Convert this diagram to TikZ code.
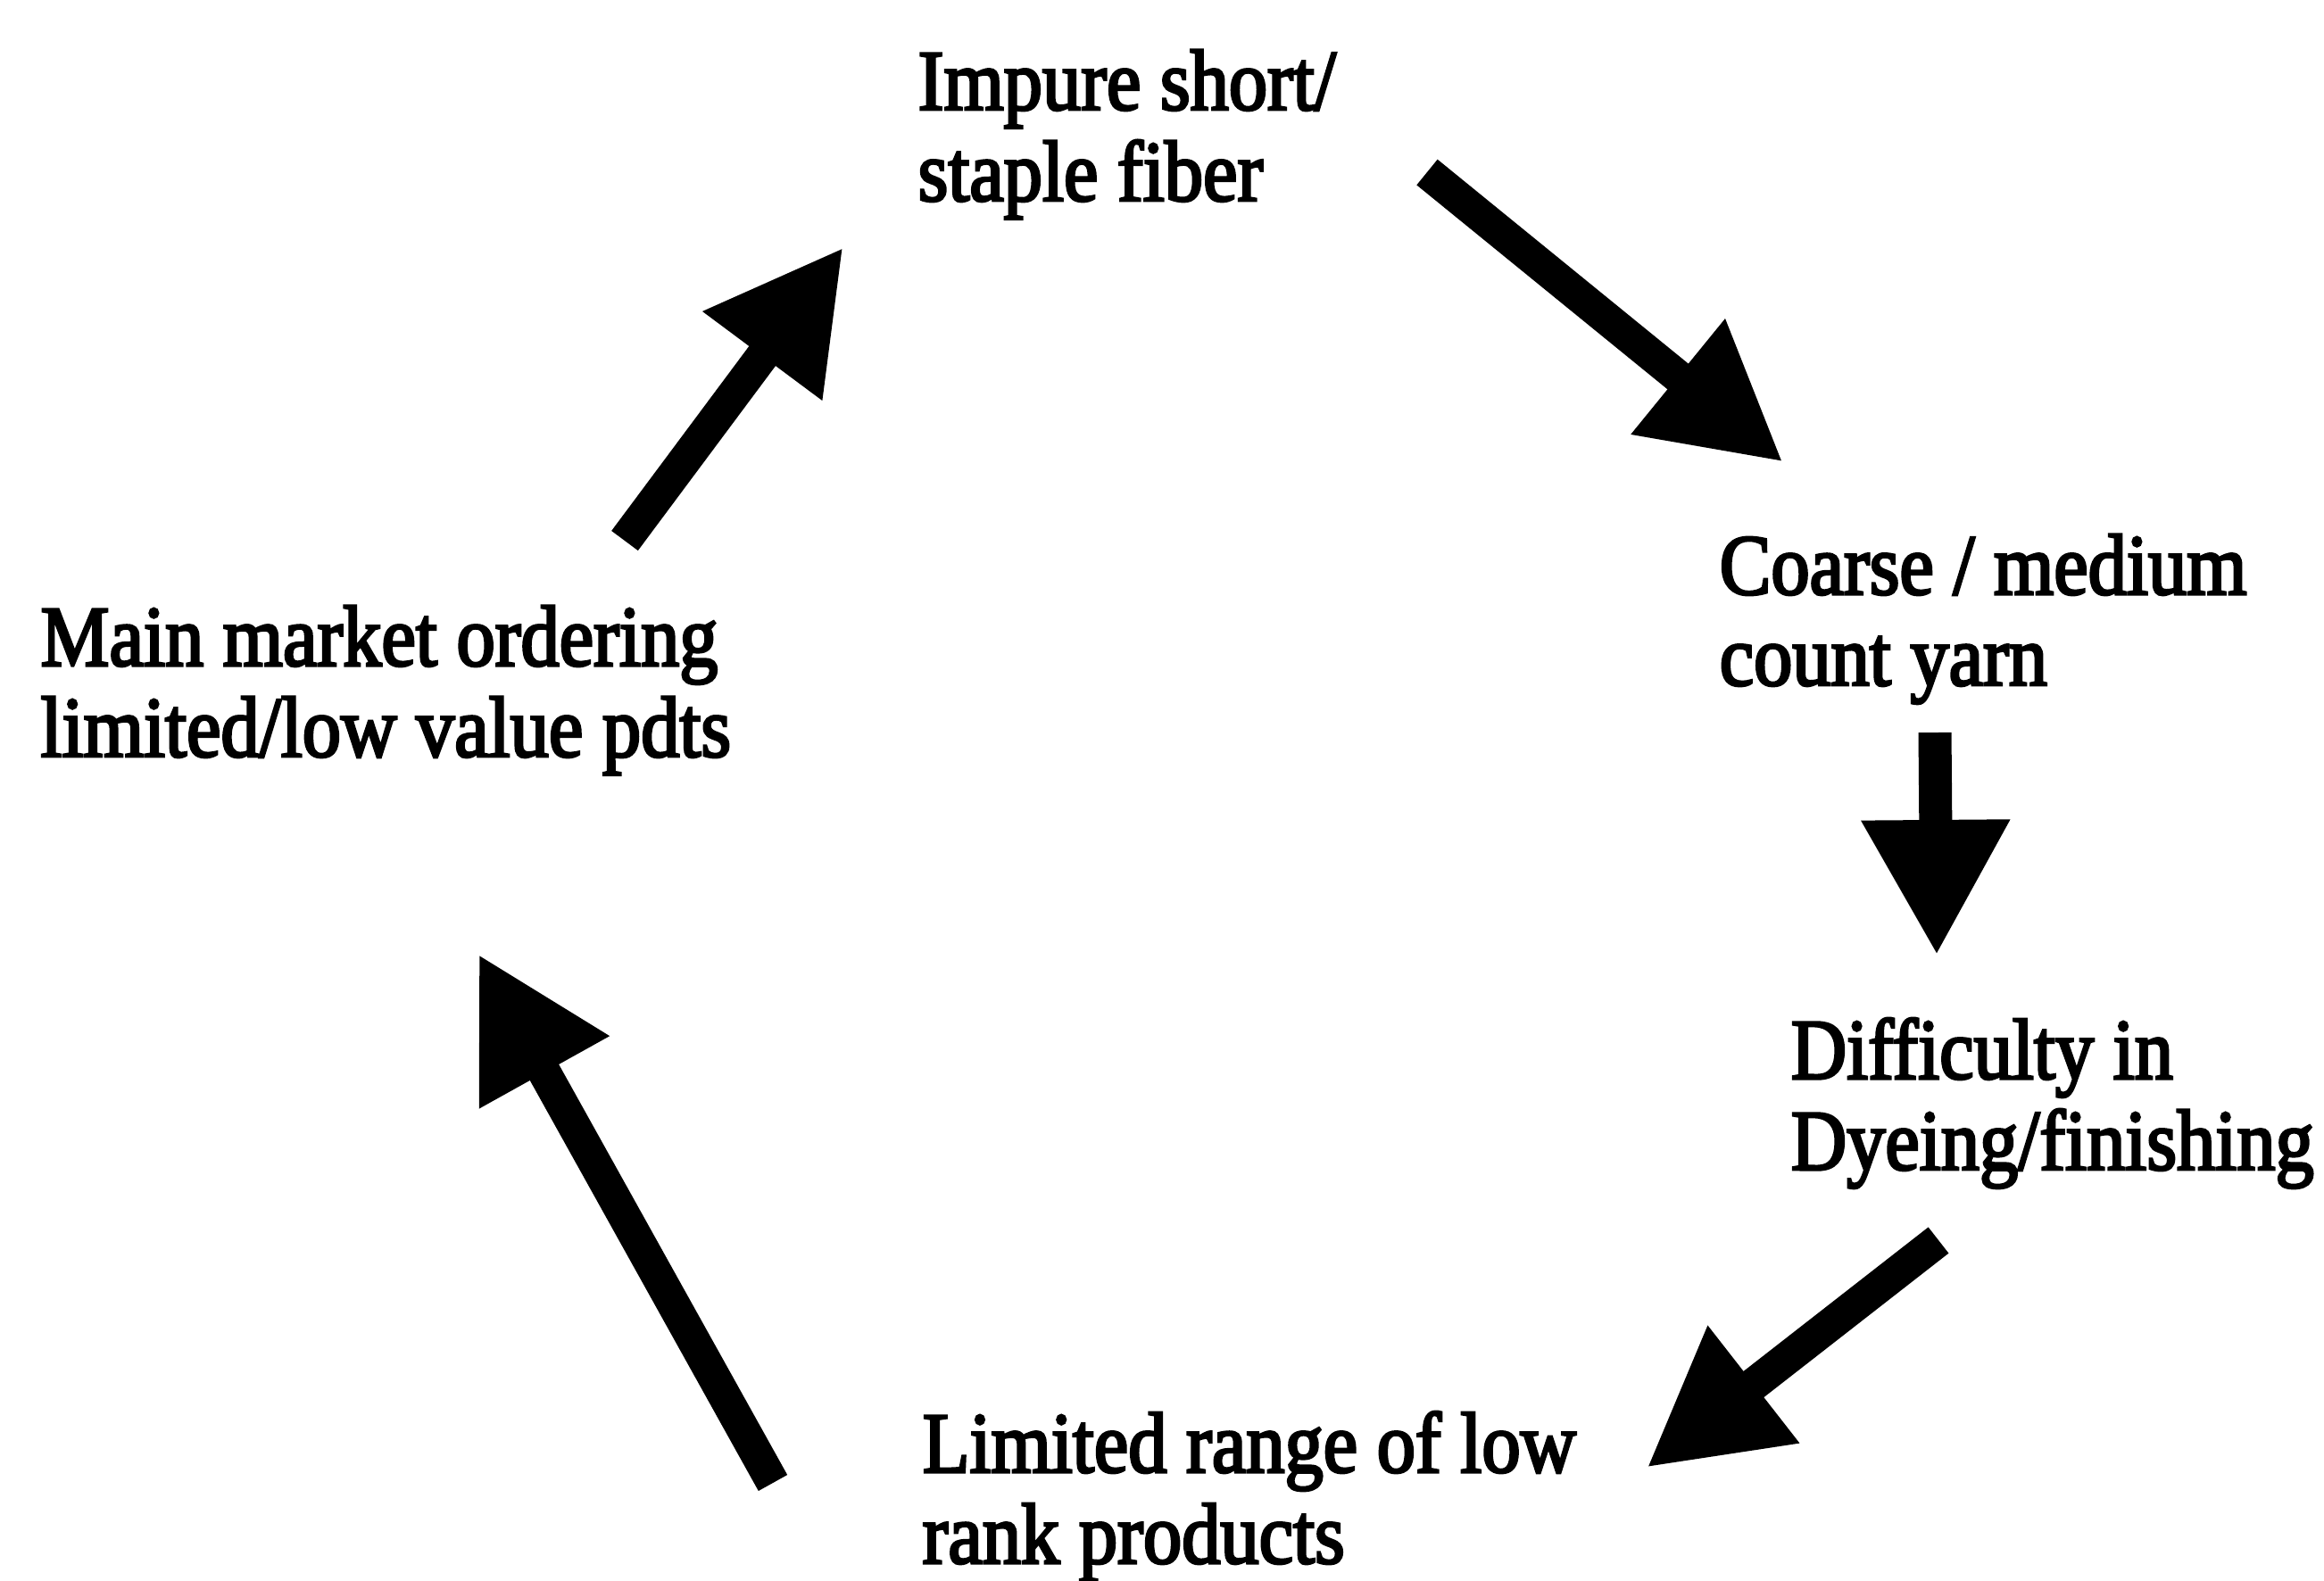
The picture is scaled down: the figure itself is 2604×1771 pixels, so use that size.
\documentclass[tikz,border=0pt]{standalone}
\usepackage{fontspec}
\setmainfont{Liberation Serif}[FakeStretch=0.894,FakeBold=3]
\usetikzlibrary{arrows.meta}
\begin{document}
\begin{tikzpicture}[x=0.01cm,y=-0.01cm,
  stage/.style={anchor=base west, inner sep=0pt, align=left,
    font=\fontsize{27.5pt}{29pt}\selectfont},
  flow/.style={line width=0.37cm, -{Triangle[length=1.52cm,width=1.56cm]}}]
% page
\fill[white] (0,0) rectangle (2604,1771);
\useasboundingbox (0,0) rectangle (2604,1771);

% stages of the cycle (anchored at the baseline of the last line)
\node[stage] (fiber)   at (1028,225)  {Impure short/\\staple fiber};
\node[stage] (yarn)    at (1926,768)  {Coarse / medium\\count yarn};
\node[stage] (dyeing)  at (2006,1311) {Difficulty in\\Dyeing/finishing};
\node[stage] (range)   at (1033,1752) {Limited range of low\\rank products};
\node[stage] (market)  at (45,848)    {Main market ordering\\limited/low value pdts};

% arrow ends
\coordinate (f2y-s) at (1599,193);
\coordinate (f2y-e) at (1998,518);
\coordinate (y2d-s) at (2168,821);
\coordinate (y2d-e) at (2170,1071);
\coordinate (d2r-s) at (2172,1390);
\coordinate (d2r-e) at (1845,1645);
\coordinate (r2m-s) at (866,1662);
\coordinate (r2m-e) at (536,1069);
\coordinate (m2f-s) at (700,606);
\coordinate (m2f-e) at (945,277);

% arrows
\draw[flow] (f2y-s) -- (f2y-e);
\draw[flow] (y2d-s) -- (y2d-e);
\draw[flow] (d2r-s) -- (d2r-e);
\draw[flow] (r2m-s) -- (r2m-e);
\draw[flow] (m2f-s) -- (m2f-e);
\end{tikzpicture}
\end{document}
